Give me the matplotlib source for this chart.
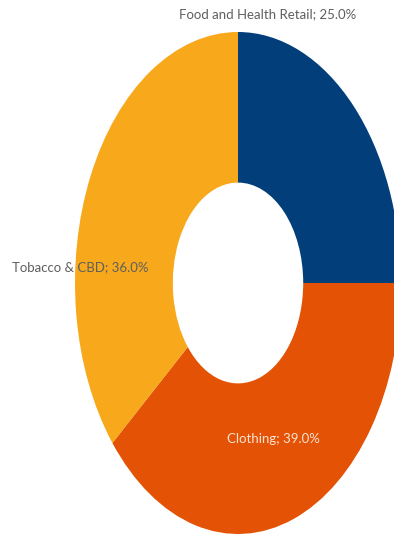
import matplotlib
matplotlib.use("Agg")
import matplotlib.pyplot as plt

categories = ["Food and Health Retail", "Clothing", "Tobacco & CBD"]
shares = [25.0, 39.0, 36.0]
colors = ["#023f7a", "#e35205", "#f7a81b"]

# label positions in axis data units (pie radius = 1)
label_pos = [(0.18, 1.07), (0.22, -0.62), (-0.97, 0.064)]
label_colors = ["#5f5f5f", "#fbe3d2", "#5f5f5f"]

fig = plt.figure(figsize=(3.94, 5.35), dpi=100)
# the donut is squeezed horizontally, so the axes are not square
ax = fig.add_axes([75 / 394, 1 / 535, 326 / 394, 502 / 535])
ax.pie(shares, colors=colors, startangle=90, counterclock=False,
       radius=1, wedgeprops=dict(width=0.6, edgecolor="none"))
ax.set_aspect("auto")
ax.set_xlim(-1, 1)
ax.set_ylim(-1, 1)
ax.axis("off")

for cat, val, (x, y), c in zip(categories, shares, label_pos, label_colors):
    ax.text(x, y, f"{cat}; {val:.1f}%", ha="center", va="center",
            fontsize=9.5, family=["Lato", "DejaVu Sans"], color=c, clip_on=False)

fig.savefig("out.png", dpi=100)
